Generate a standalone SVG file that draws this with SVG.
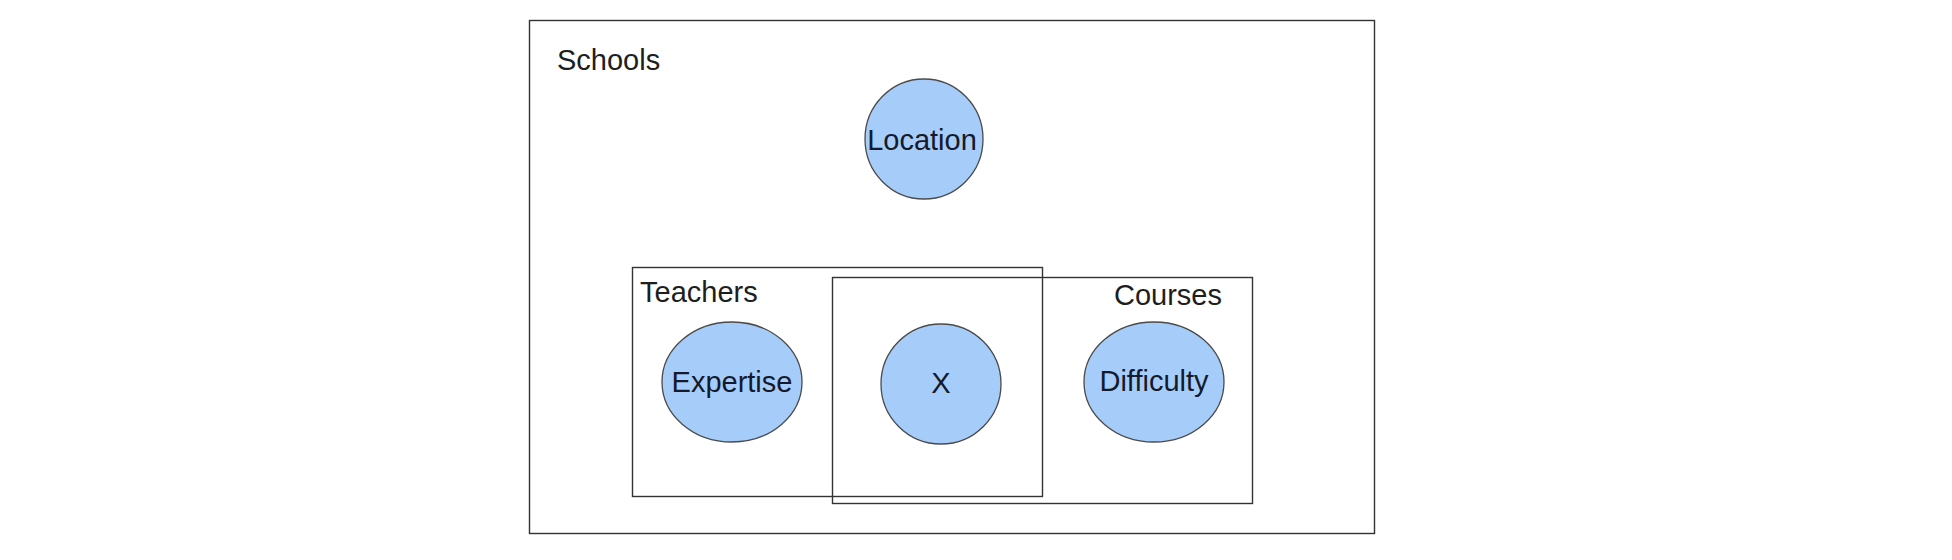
<svg xmlns="http://www.w3.org/2000/svg" width="1952" height="560" viewBox="0 0 1952 560">
<style>
.plate{fill:none;stroke:#333;stroke-width:1.4}
.node{fill:#a6cdf9;stroke:#4a4a4a;stroke-width:1.3}
.lbl{font-family:"Liberation Sans",Arial,sans-serif;font-size:29px;fill:#1e1e1e}
.nl{font-family:"Liberation Sans",Arial,sans-serif;font-size:29px;fill:#141a2c;text-anchor:middle}
</style>
<rect width="1952" height="560" fill="#fff"/>
<g id="schools">
<rect class="plate" x="529.5" y="20.5" width="845" height="513"/>
<text class="lbl" x="557" y="70">Schools</text>
</g>
<g id="teachers">
<rect class="plate" x="632.5" y="267.5" width="410" height="229"/>
<text class="lbl" x="640" y="302">Teachers</text>
</g>
<g id="courses">
<rect class="plate" x="832.5" y="277.5" width="420" height="226"/>
<text class="lbl" x="1114" y="305">Courses</text>
</g>
<g id="location">
<ellipse class="node" cx="924" cy="139" rx="59" ry="60"/>
<text class="nl" x="922" y="150">Location</text>
</g>
<g id="expertise">
<ellipse class="node" cx="732" cy="382" rx="70" ry="60"/>
<text class="nl" x="732" y="392">Expertise</text>
</g>
<g id="x">
<ellipse class="node" cx="941" cy="384" rx="60" ry="60"/>
<text class="nl" x="941" y="393">X</text>
</g>
<g id="difficulty">
<ellipse class="node" cx="1154" cy="382" rx="70" ry="60"/>
<text class="nl" x="1154" y="391">Difficulty</text>
</g>
<g id="connectors"></g>
</svg>
